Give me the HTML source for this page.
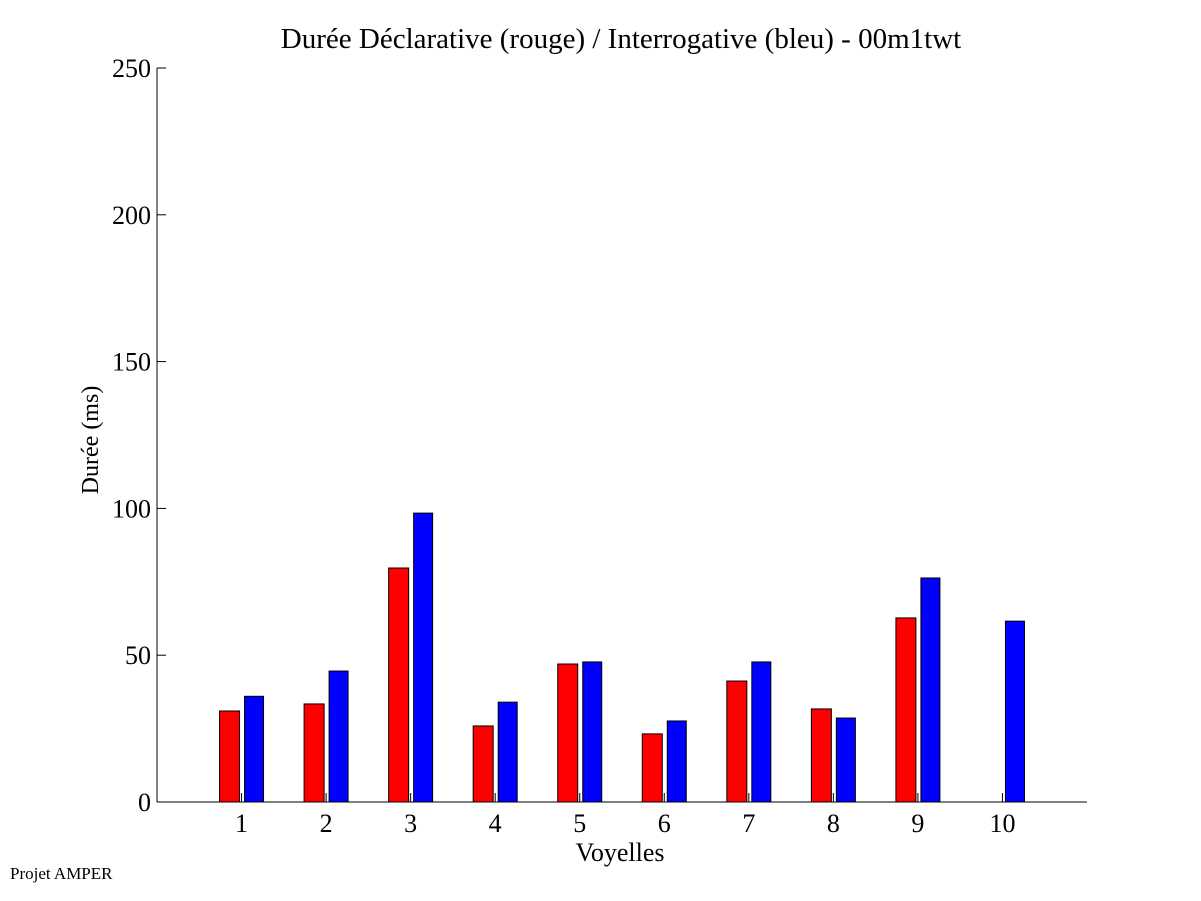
<!DOCTYPE html>
<html><head><meta charset="utf-8"><style>body{margin:0;background:#fff}svg{display:block}text{font-family:"Liberation Serif",serif;fill:#000}</style></head>
<body>
<svg id="chart" width="1201" height="901" xmlns="http://www.w3.org/2000/svg">
<rect width="1201" height="901" fill="#fff"/>
<text x="621" y="48" font-size="29" text-anchor="middle">Durée Déclarative (rouge) / Interrogative (bleu) - 00m1twt</text>
<text transform="translate(98,440) rotate(-90)" font-size="24" text-anchor="middle">Durée (ms)</text>
<text x="620" y="861" font-size="26" text-anchor="middle">Voyelles</text>
<text x="10" y="879" font-size="17">Projet AMPER</text>
<g id="axes"></g>
<g id="bars"></g>
</svg>
<script>
const categories = [1,2,3,4,5,6,7,8,9,10];
const declarative = [31,33.4,79.7,25.9,47,23.2,41.2,31.7,62.7,0];
const interrogative = [36,44.6,98.4,34,47.7,27.6,47.7,28.6,76.3,61.6];
const yTicks = [0,50,100,150,200,250];

const X0=157,X1=1087,Y0=802,Y1=68;
const xs=v=>X0+(X1-X0)*v/11;
const ys=v=>Y0-(Y0-Y1)*v/250;
const NS='http://www.w3.org/2000/svg';
function mk(tag,attrs,parent){const e=document.createElementNS(NS,tag);for(const k in attrs)e.setAttribute(k,attrs[k]);parent.appendChild(e);return e;}
const axes=document.getElementById('axes'),bars=document.getElementById('bars');
let yl=mk('line',{x1:X0,y1:Y1,x2:X0,y2:Y0,stroke:'#000','stroke-width':1},axes);


let xl=mk('line',{x1:X0,y1:Y0,x2:X1,y2:Y0,stroke:'#000','stroke-width':1},axes);


yTicks.forEach(t=>{
  const y=ys(t);
  mk('line',{x1:X0,y1:y,x2:X0+9,y2:y,stroke:'#000'},axes);
  const tx=mk('text',{x:X0-6,y:y+9,'font-size':26,'text-anchor':'end'},axes);
  tx.textContent=t;
  
  
});
categories.forEach((c,i)=>{
  const cx=xs(c);
  const r=mk('rect',{x:cx-22,y:ys(declarative[i]),width:20,height:Y0-ys(declarative[i]),fill:'#f00',stroke:'#000','stroke-width':1},bars);
  
  
  const b=mk('rect',{x:cx+3,y:ys(interrogative[i]),width:19,height:Y0-ys(interrogative[i]),fill:'#00f',stroke:'#000','stroke-width':1},bars);
  
  
  mk('line',{x1:cx,y1:Y0,x2:cx,y2:Y0-9,stroke:'#000'},axes);
  const tx=mk('text',{x:cx,y:832,'font-size':26,'text-anchor':'middle'},axes);
  tx.textContent=c;
  
  
});
</script>
</body></html>
